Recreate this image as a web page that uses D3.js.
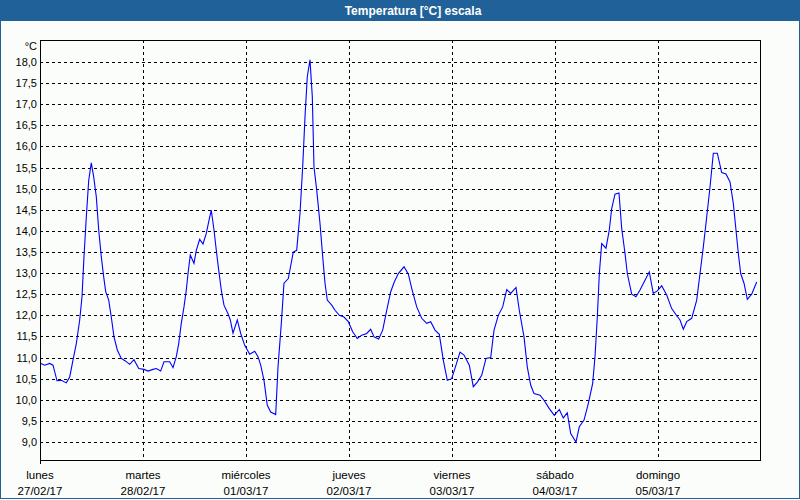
<!DOCTYPE html>
<html>
<head>
<meta charset="utf-8">
<script src="https://cdn.jsdelivr.net/npm/d3@7"></script>
<style>
  html, body { margin: 0; padding: 0; background: #fbfdfb; }
  svg { display: block; }
  text { font-family: "Liberation Sans", Arial, sans-serif; }
</style>
</head>
<body>
<svg id="chart" width="800" height="500"></svg>
<script>
// ---- data ----
const title = "Temperatura [°C] escala";
const unitLabel = "°C";
const dayNames = ["lunes", "martes", "miércoles", "jueves", "viernes", "sábado", "domingo"];
const dayDates = ["27/02/17", "28/02/17", "01/03/17", "02/03/17", "03/03/17", "04/03/17", "05/03/17"];
const yTicks = [9.0, 9.5, 10.0, 10.5, 11.0, 11.5, 12.0, 12.5, 13.0, 13.5, 14.0, 14.5, 15.0, 15.5, 16.0, 16.5, 17.0, 17.5, 18.0];
// hours since 27/02/17 00:00
const hours = [0.2, 1.1, 2.26, 3.03, 3.96, 4.96, 6.13, 6.92, 7.69, 8.46, 9.25, 9.79, 10.25, 10.79, 11.35, 11.95, 12.51, 13.12, 13.68, 14.28,
  14.84, 15.31, 16.01, 16.61, 17.24, 18.01, 18.94, 19.88, 20.9, 21.9, 23.0, 24.23, 25.17, 26.33, 27.1, 28.12, 28.89, 30.22, 30.99, 31.76,
  32.32, 32.92, 33.55, 34.09, 34.49, 35.02, 35.88, 36.42, 37.21, 37.98, 38.75, 39.31, 39.91, 40.54, 41.08, 41.64, 42.24, 42.87, 43.81, 44.34,
  44.97, 45.97, 46.77, 47.7, 48.86, 50.03, 50.8, 51.43, 52.19, 52.96, 53.76, 54.92, 55.46, 56.23, 56.85, 57.86, 59.02, 59.81, 60.58, 61.21,
  61.75, 62.28, 62.91, 63.45, 63.84, 64.47, 65.24, 65.87, 66.41, 66.94, 67.97, 68.74, 69.74, 70.83, 71.84, 72.86, 73.93, 74.96, 76.12, 77.05,
  77.83, 78.92, 79.85, 80.79, 81.72, 82.55, 83.49, 84.82, 85.82, 86.61, 87.78, 88.94, 90.11, 91.04, 92.04, 93.04, 93.97, 94.91, 95.93, 96.93,
  97.86, 98.8, 100.03, 100.96, 101.9, 102.92, 103.92, 105.02, 105.79, 106.79, 107.81, 108.75, 109.68, 110.91, 111.68, 112.78, 113.54, 114.33, 115.1, 116.5,
  117.44, 118.67, 119.84, 121.0, 121.93, 122.86, 123.66, 124.89, 125.66, 126.76, 127.76, 128.78, 129.32, 129.86, 130.33, 130.88, 131.88, 132.65, 133.21, 133.98,
  134.91, 135.54, 136.31, 136.85, 137.87, 138.87, 139.81, 140.97, 141.97, 142.9, 143.84, 144.86, 146.03, 147.19, 148.36, 149.13, 149.9, 150.69, 151.85, 153.02,
  153.79, 154.56, 155.35, 156.12, 156.89, 157.82, 158.84, 159.84, 160.78, 161.55, 162.17, 162.71, 163.27, 164.04, 164.81, 165.83, 167.0];
const temps = [10.86, 10.82, 10.86, 10.82, 10.45, 10.46, 10.40, 10.54, 10.94, 11.33, 11.89, 12.44, 13.39, 14.33, 15.20, 15.61, 15.28, 14.81, 14.02, 13.39,
  12.91, 12.56, 12.36, 11.96, 11.49, 11.18, 10.98, 10.92, 10.84, 10.95, 10.74, 10.72, 10.68, 10.72, 10.74, 10.68, 10.90, 10.90, 10.76, 11.02,
  11.33, 11.81, 12.20, 12.60, 12.99, 13.43, 13.23, 13.54, 13.80, 13.69, 13.94, 14.22, 14.49, 14.02, 13.54, 13.07, 12.60, 12.24, 12.04, 11.89,
  11.58, 11.89, 11.57, 11.29, 11.08, 11.15, 11.02, 10.82, 10.46, 9.87, 9.71, 9.65, 10.78, 11.81, 12.76, 12.87, 13.50, 13.54, 14.41, 15.52,
  16.70, 17.65, 18.05, 17.18, 15.52, 14.97, 14.18, 13.39, 12.76, 12.36, 12.24, 12.12, 12.00, 11.96, 11.85, 11.61, 11.45, 11.53, 11.57, 11.67,
  11.49, 11.44, 11.65, 12.12, 12.56, 12.79, 12.99, 13.15, 12.98, 12.64, 12.20, 11.93, 11.81, 11.85, 11.65, 11.55, 10.94, 10.46, 10.50, 10.82,
  11.13, 11.06, 10.82, 10.31, 10.42, 10.58, 10.98, 11.00, 11.65, 12.00, 12.20, 12.61, 12.52, 12.66, 12.12, 11.49, 10.78, 10.35, 10.15, 10.11,
  9.99, 9.79, 9.63, 9.77, 9.57, 9.69, 9.20, 9.00, 9.36, 9.52, 9.91, 10.39, 11.02, 11.96, 12.99, 13.70, 13.59, 14.02, 14.53, 14.87,
  14.90, 14.06, 13.47, 12.99, 12.50, 12.44, 12.60, 12.83, 13.03, 12.52, 12.58, 12.70, 12.48, 12.16, 11.99, 11.89, 11.67, 11.85, 11.93, 12.36,
  12.99, 13.62, 14.33, 15.04, 15.84, 15.84, 15.38, 15.35, 15.16, 14.65, 14.02, 13.47, 12.99, 12.76, 12.38, 12.50, 12.79];

// ---- layout ----
const svg = d3.select("#chart");
const W = 800, H = 500;
const plot = { left: 40, top: 40, right: 760, bottom: 460 };

const x = d3.scaleLinear().domain([0, 168]).range([plot.left, plot.left + 721]);
const y = d3.scaleLinear().domain([9, 18]).range([442, 62]);

// background
svg.append("rect").attr("x", 0).attr("y", 0).attr("width", W).attr("height", H).attr("fill", "#fbfdfb");
// title bar
svg.append("rect").attr("x", 0).attr("y", 0).attr("width", W).attr("height", 21).attr("fill", "#1f6198");
svg.append("text").attr("x", 413).attr("y", 15).attr("text-anchor", "middle")
  .attr("fill", "#ffffff").attr("font-weight", "bold").attr("font-size", "12px").text(title);
// outer frame
svg.append("rect").attr("x", 0.5).attr("y", 0.5).attr("width", W - 1).attr("height", H - 2)
  .attr("fill", "none").attr("stroke", "#1f6198").attr("stroke-width", 1);

// horizontal gridlines
svg.append("g").selectAll("line").data(yTicks).join("line")
  .attr("x1", plot.left).attr("x2", plot.right)
  .attr("y1", d => Math.round(y(d)) + 0.5).attr("y2", d => Math.round(y(d)) + 0.5)
  .attr("stroke", "#000").attr("stroke-dasharray", "3,3").attr("shape-rendering", "crispEdges");

// vertical day gridlines
const dayIdx = d3.range(dayNames.length);
svg.append("g").selectAll("line").data(dayIdx.slice(1)).join("line")
  .attr("x1", d => Math.round(x(d * 24)) + 0.5).attr("x2", d => Math.round(x(d * 24)) + 0.5)
  .attr("y1", plot.top).attr("y2", plot.bottom)
  .attr("stroke", "#000").attr("stroke-dasharray", "3,3").attr("shape-rendering", "crispEdges");

// y labels
svg.append("g").selectAll("text").data(yTicks).join("text")
  .attr("x", 37).attr("y", d => Math.round(y(d)) + 4)
  .attr("text-anchor", "end").attr("font-size", "11px").attr("fill", "#000")
  .text(d => d3.format(".1f")(d).replace(".", ","));
svg.append("text").attr("x", 37).attr("y", 50).attr("text-anchor", "end")
  .attr("font-size", "11px").attr("fill", "#000").text(unitLabel);

// x labels
const xl = svg.append("g").selectAll("g").data(dayIdx).join("g");
xl.append("text").attr("x", d => x(d * 24)).attr("y", 479).attr("text-anchor", "middle")
  .attr("font-size", "11.5px").attr("fill", "#000").text(d => dayNames[d]);
xl.append("text").attr("x", d => x(d * 24)).attr("y", 495).attr("text-anchor", "middle")
  .attr("font-size", "11.5px").attr("fill", "#000").text(d => dayDates[d]);

// data line
const pts = hours.map((h, i) => [h, temps[i]]);
svg.append("path").datum(pts)
  .attr("d", d3.line().x(d => x(d[0])).y(d => y(d[1])))
  .attr("fill", "none").attr("stroke", "#0000ff").attr("stroke-width", 1.1);

// plot frame
svg.append("rect").attr("x", plot.left + 0.5).attr("y", plot.top + 0.5)
  .attr("width", plot.right - plot.left).attr("height", plot.bottom - plot.top)
  .attr("fill", "none").attr("stroke", "#000").attr("shape-rendering", "crispEdges");
svg.append("line").attr("x1", plot.left + 0.5).attr("x2", plot.left + 0.5)
  .attr("y1", plot.bottom).attr("y2", plot.bottom + 4)
  .attr("stroke", "#000").attr("shape-rendering", "crispEdges");
</script>
</body>
</html>
